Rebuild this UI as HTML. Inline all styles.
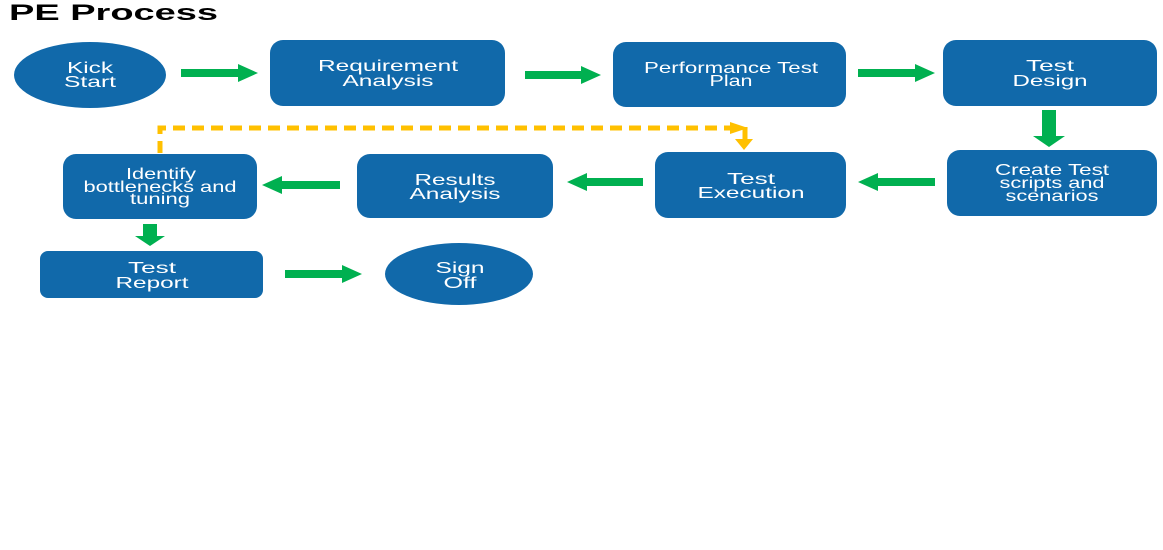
<!DOCTYPE html>
<html><head><meta charset="utf-8"><style>
html,body{margin:0;padding:0;background:#fff;}
svg{display:block;}
text{font-family:"Liberation Sans",Arial,sans-serif;}
.t{fill:#fff;font-size:16px;text-anchor:middle;}
</style></head><body>
<svg width="1163" height="550" viewBox="0 0 1163 550" xmlns="http://www.w3.org/2000/svg">
<text x="9" y="20" font-size="22" font-weight="bold" fill="#000" textLength="209" lengthAdjust="spacingAndGlyphs">PE Process</text>
<g fill="#1169AA">
<ellipse cx="90" cy="75" rx="76" ry="33"/>
<rect x="270" y="40" width="235" height="66" rx="13"/>
<rect x="613" y="42" width="233" height="65" rx="13"/>
<rect x="943" y="40" width="214" height="66" rx="13"/>
<rect x="947" y="150" width="210" height="66" rx="13"/>
<rect x="655" y="152" width="191" height="66" rx="13"/>
<rect x="357" y="154" width="196" height="64" rx="13"/>
<rect x="63" y="154" width="194" height="65" rx="13"/>
<rect x="40" y="251" width="223" height="47" rx="8"/>
<ellipse cx="459" cy="274" rx="74" ry="31"/>
</g>
<g fill="#00B050">
<polygon points="181,69 238,69 238,64 258,73 238,82 238,77 181,77"/>
<polygon points="525,71 581,71 581,66 601,75 581,84 581,79 525,79"/>
<polygon points="858,69 915,69 915,64 935,73 915,82 915,77 858,77"/>
<polygon points="1042,110 1056,110 1056,136 1065,136 1049,147 1033,136 1042,136"/>
<polygon points="935,178 878,178 878,173 858,182 878,191 878,186 935,186"/>
<polygon points="643,178 587,178 587,173 567,182 587,191 587,186 643,186"/>
<polygon points="340,181 282,181 282,176 262,185 282,194 282,189 340,189"/>
<polygon points="143,224 157,224 157,236 165,236 150,246 135,236 143,236"/>
<polygon points="285,270 342,270 342,265 362,274 342,283 342,278 285,278"/>
</g>
<g stroke="#FFC000" stroke-width="5" fill="none">
<path d="M160,153 V128 H735" stroke-dasharray="12,7"/>
<path d="M745,127 V140"/>
</g>
<g fill="#FFC000">
<polygon points="730,122 748,128 730,134"/>
<polygon points="735,139 753,139 744,150"/>
</g>
<g class="t">
<text x="90" y="73" textLength="46" lengthAdjust="spacingAndGlyphs">Kick</text>
<text x="90" y="87" textLength="52" lengthAdjust="spacingAndGlyphs">Start</text>
<text x="388" y="71" textLength="140" lengthAdjust="spacingAndGlyphs">Requirement</text>
<text x="388" y="86" textLength="91" lengthAdjust="spacingAndGlyphs">Analysis</text>
<text x="731" y="73" textLength="174" lengthAdjust="spacingAndGlyphs">Performance Test</text>
<text x="731" y="86" textLength="43" lengthAdjust="spacingAndGlyphs">Plan</text>
<text x="1050" y="71" textLength="48" lengthAdjust="spacingAndGlyphs">Test</text>
<text x="1050" y="86" textLength="75" lengthAdjust="spacingAndGlyphs">Design</text>
<text x="1052" y="175" textLength="114" lengthAdjust="spacingAndGlyphs">Create Test</text>
<text x="1052" y="188" textLength="105" lengthAdjust="spacingAndGlyphs">scripts and</text>
<text x="1052" y="201" textLength="93" lengthAdjust="spacingAndGlyphs">scenarios</text>
<text x="751" y="184" textLength="48" lengthAdjust="spacingAndGlyphs">Test</text>
<text x="751" y="198" textLength="107" lengthAdjust="spacingAndGlyphs">Execution</text>
<text x="455" y="185" textLength="81" lengthAdjust="spacingAndGlyphs">Results</text>
<text x="455" y="199" textLength="91" lengthAdjust="spacingAndGlyphs">Analysis</text>
<text x="161" y="179" textLength="70" lengthAdjust="spacingAndGlyphs">Identify</text>
<text x="160" y="192" textLength="153" lengthAdjust="spacingAndGlyphs">bottlenecks and</text>
<text x="160" y="204" textLength="60" lengthAdjust="spacingAndGlyphs">tuning</text>
<text x="152" y="273" textLength="48" lengthAdjust="spacingAndGlyphs">Test</text>
<text x="152" y="288" textLength="73" lengthAdjust="spacingAndGlyphs">Report</text>
<text x="460" y="273" textLength="49" lengthAdjust="spacingAndGlyphs">Sign</text>
<text x="460" y="288" textLength="33" lengthAdjust="spacingAndGlyphs">Off</text>
</g>
</svg>
</body></html>
